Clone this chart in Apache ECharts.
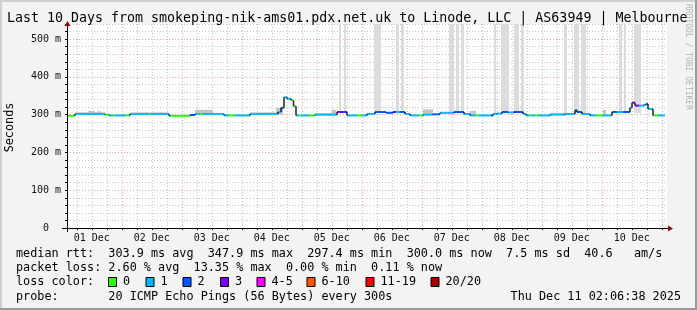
<!DOCTYPE html>
<html><head><meta charset="utf-8">
<script src="https://cdn.jsdelivr.net/npm/echarts@6.0.0/dist/echarts.min.js"></script>
<style>html,body{margin:0;padding:0;background:#f3f3f3}#c{width:697px;height:310px}</style>
</head><body><div id="c"></div><script>
// ---- data (time in hours since 01 Dec 00:00, rtt in ms) ----
const dayLabels = ['01 Dec','02 Dec','03 Dec','04 Dec','05 Dec','06 Dec','07 Dec','08 Dec','09 Dec','10 Dec'];
const dayLabelHours = [12,36,60,84,108,132,156,180,204,228];
const gridHours = [6,12,18,24,30,36,42,48,54,60,66,72,78,84,90,96,102,108,114,120,126,132,138,144,150,156,162,168,174,180,186,192,198,204,210,216,222,228,234,240];
const yTickMs = [0,100,200,300,400,500];
const yTickLabels = ['0  ','100 m','200 m','300 m','400 m','500 m'];

const segStartH = [
  2.1,5.3,17.3,18.9,20.5,21.3,25.7,26.9,27.3,34.9,
  35.7,42.9,43.7,51.3,53.3,55.3,56.5,64.9,66.9,69.3,
  75.3,86.5,87.7,88.9,90.1,91.7,92.7,93.7,94.9,95.7,
  98.9,101.3,110.1,112.5,113.3,114.1,118.1,120.1,122.1,125.3,
  129.7,132.5,133.7,135.3,137.3,139.3,142.9,144.5,148.5,151.3,
  156.9,160.9,163.3,165.7,166.9,171.7,172.5,174.1,176.1,178.5,
  180.9,181.7,184.5,185.7,186.9,187.7,189.3,190.5,195.3,201.3,
  205.3,206.1,208.1,211.3,213.7,216.1,220.1,222.1,224.5,227.3,
  228.1,229.3,230.9,232.9,233.7,234.5,236.5,238.5];
const lastSampleH = 241.3;
const medianMs = [
  297,302,300,298,298,298,298,298,302,302,
  302,297,297,299,302,302,302,298,298,298,
  302,307,318,346,342,338,322,298,298,298,
  298,300,307,307,307,298,298,298,302,307,
  305,307,307,307,302,298,298,300,301,305,
  307,302,298,298,298,298,302,303,307,306,
  307,307,302,298,298,298,298,298,300,302,
  312,307,302,298,298,298,307,307,307,318,
  332,324,324,326,328,315,298,298];
const lossPings = [
  0,1,0,1,0,1,0,1,1,0,
  1,1,0,2,1,0,1,1,0,1,
  1,1,2,1,1,0,0,1,0,1,
  0,1,3,2,3,1,0,1,1,2,
  2,3,1,2,1,1,0,1,2,1,
  2,1,1,0,1,2,1,1,2,1,
  3,2,1,1,0,1,0,1,1,1,
  2,2,1,1,0,1,2,1,2,1,
  3,3,1,1,2,1,0,1];

const spikeStartH = [110.9,112.9,124.9,133.7,135.7,154.9,157.7,159.7,172.9,175.7,180.9,183.7,200.9,204.9,207.7,222.9,224.9,228.9];
const spikeEndH   = [111.7,113.7,127.7,134.9,136.9,156.9,158.9,160.9,173.7,178.9,182.9,184.9,202.1,206.9,209.7,224.1,225.7,231.7];
const spikeLowMs = 304, spikeHighMs = 540;

const smokeStartH = [5.3,10.5,14.1,27.3,53.3,75.3,85.7,101.3,108,144.5,163.3,195.3,216.5];
const smokeEndH   = [17.3,13.3,15.7,42.9,60.5,86.5,88.5,110.1,109.7,148.5,165.7,201.3,217.7];
const smokeLowMs  = [300,300,300,300,300,300,300,298,300,300,300,300,300];
const smokeHighMs = [306,310,309,306,313,306,318,304,313,314,310,305,313];

const lossColors = ['#26ff00','#00b8ff','#0059ff','#7e00ff','#ff00ff','#ff5500','#ff0000','#a10000'];
const lossLabels = ['0','1','2','3','4-5','6-10','11-19','20/20'];

const statLines = [
  'median rtt:  303.9 ms avg  347.9 ms max  297.4 ms min  300.0 ms now  7.5 ms sd  40.6   am/s',
  'packet loss: 2.60 % avg  13.35 % max  0.00 % min  0.11 % now'
];
const probeText = 'probe:       20 ICMP Echo Pings (56 Bytes) every 300s';
const stampText = 'Thu Dec 11 02:06:38 2025';
const titleText = 'Last 10 Days from smokeping-nik-ams01.pdx.net.uk to Linode, LLC | AS63949 | Melbourne';

// ---- build ----
const FONT = "'DejaVu Sans Mono', monospace";
const segData = segStartH.map((s, i) => [s, i + 1 < segStartH.length ? segStartH[i + 1] : lastSampleH, medianMs[i], lossPings[i], i > 0 ? medianMs[i - 1] : medianMs[i]]);
const spikeData = spikeStartH.map((s, i) => [s, spikeEndH[i], spikeLowMs, spikeHighMs]);
const smokeData = smokeStartH.map((s, i) => [s, smokeEndH[i], smokeLowMs[i], smokeHighMs[i]]);

function rectItem(color) {
  return function (params, api) {
    const p1 = api.coord([api.value(0), api.value(3)]);
    const p2 = api.coord([api.value(1), api.value(2)]);
    return {type: 'rect', shape: {x: p1[0], y: p1[1], width: p2[0] - p1[0], height: p2[1] - p1[1]}, style: {fill: color}};
  };
}

function txt(x, y, s, size, extra) {
  const st = Object.assign({text: s, fontSize: size, fontFamily: FONT, fill: '#000', align: 'left', verticalAlign: 'middle'}, extra || {});
  return {type: 'text', x: x, y: y, silent: true, z: 50, style: st};
}

const graphics = [
  {type: 'rect', shape: {x: 0, y: 0, width: 697, height: 2}, style: {fill: '#cfcfcf'}, silent: true},
  {type: 'rect', shape: {x: 0, y: 0, width: 2, height: 310}, style: {fill: '#cfcfcf'}, silent: true},
  {type: 'rect', shape: {x: 0, y: 308, width: 697, height: 2}, style: {fill: '#9b9b9b'}, silent: true},
  {type: 'rect', shape: {x: 695, y: 0, width: 2, height: 310}, style: {fill: '#9b9b9b'}, silent: true},
  txt(7, 18.5, titleText, 13.3),
  Object.assign(txt(10, 127.5, 'Seconds', 11.8, {align: 'center'}), {rotation: Math.PI / 2, originX: 0, originY: 0}),
  Object.assign(txt(688, 4, 'RRDTOOL / TOBI OETIKER', 8, {fill: '#b4b4b4'}), {rotation: -Math.PI / 2}),
  txt(16, 254, statLines[0], 11.8),
  txt(16, 268, statLines[1], 11.8),
  txt(16, 282, 'loss color:', 11.8),
  txt(16, 296.5, probeText, 11.8),
  txt(681, 296.5, stampText, 11.8, {align: 'right'}),
  // axis extensions and arrows
  {type: 'line', shape: {x1: 62, y1: 228.5, x2: 670, y2: 228.5}, style: {stroke: '#000', lineWidth: 1}, z: 60, silent: true},
  {type: 'line', shape: {x1: 67.5, y1: 232, x2: 67.5, y2: 24}, style: {stroke: '#000', lineWidth: 1}, z: 60, silent: true},
  {type: 'polygon', shape: {points: [[64.5, 26], [70.5, 26], [67.5, 21]]}, style: {fill: '#7f1010'}, z: 61, silent: true},
  {type: 'polygon', shape: {points: [[668, 225.5], [668, 231.5], [673, 228.5]]}, style: {fill: '#7f1010'}, z: 61, silent: true}
];
const boxX = [108, 145.5, 182.5, 220, 256.5, 306.5, 365.5, 430.5];
lossLabels.forEach((lab, i) => {
  graphics.push({type: 'rect', shape: {x: boxX[i] + 0.5, y: 277.5, width: 8, height: 9}, style: {fill: lossColors[i], stroke: '#000', lineWidth: 1}, z: 50, silent: true});
  graphics.push(txt(boxX[i] + 15, 282, lab, 11.8));
});

const RED = '#f0a8a8', GRAY = '#c8c8c8';
const chart = echarts.init(document.getElementById('c'), null, {renderer: 'canvas'});
chart.setOption({
  animation: false,
  backgroundColor: '#f3f3f3',
  grid: {left: 67, top: 24, width: 600, height: 204, show: true, backgroundColor: '#ffffff', borderWidth: 0},
  xAxis: {
    type: 'value', min: 2.1, max: 242.1,
    axisLine: {show: false},
    axisTick: {show: true, length: 2, customValues: gridHours, lineStyle: {color: '#000'}},
    axisLabel: {customValues: dayLabelHours, margin: 5, fontFamily: FONT, fontSize: 10, color: '#111',
      formatter: v => dayLabels[dayLabelHours.indexOf(Math.round(v))] || ''},
    splitLine: {show: true, lineStyle: {color: [GRAY, GRAY, GRAY, RED], type: [1, 2], width: 1}}
  },
  yAxis: {
    type: 'value', min: 0, max: 540, interval: 20,
    axisLine: {show: false},
    axisTick: {show: true, length: 2, lineStyle: {color: '#000'}},
    axisLabel: {margin: 6, fontFamily: FONT, fontSize: 10, color: '#111',
      formatter: v => { const k = yTickMs.indexOf(Math.round(v)); return k >= 0 ? yTickLabels[k] : ''; }},
    splitLine: {show: true, lineStyle: {color: [RED, GRAY, GRAY, GRAY, GRAY], type: [1, 2], width: 1}}
  },
  graphic: graphics,
  series: [
    {type: 'custom', name: 'spikes', z: 1, clip: true, data: spikeData, encode: {x: [0, 1], y: [2, 3]}, renderItem: rectItem('#dcdcdc')},
    {type: 'custom', name: 'smoke', z: 2, clip: true, data: smokeData, encode: {x: [0, 1], y: [2, 3]}, renderItem: rectItem('#c4c4c4')},
    {type: 'custom', name: 'median rtt', z: 3, clip: true, data: segData, encode: {x: [0, 1], y: 2},
      renderItem: function (params, api) {
        const s = api.value(0), e = api.value(1), v = api.value(2), loss = api.value(3), pv = api.value(4);
        const p1 = api.coord([s, v]), p2 = api.coord([e, v]);
        const children = [{type: 'line', shape: {x1: p1[0], y1: p1[1], x2: p2[0], y2: p2[1]}, style: {stroke: lossColors[loss], lineWidth: 2}}];
        if (pv !== v) {
          const p0 = api.coord([s, pv]);
          children.push({type: 'line', shape: {x1: p1[0], y1: p0[1], x2: p1[0], y2: p1[1]}, style: {stroke: '#202020', lineWidth: 1.5}});
        }
        return {type: 'group', children: children};
      }}
  ]
});
</script></body></html>
